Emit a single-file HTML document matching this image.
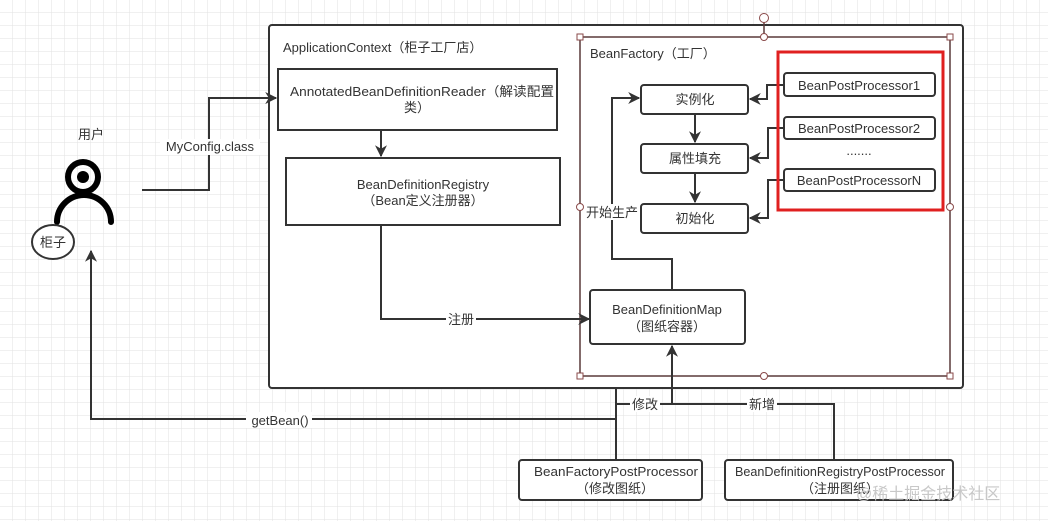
<!DOCTYPE html>
<html><head><meta charset="utf-8"><style>
html,body{margin:0;padding:0;background:#fff}
svg{display:block}
text{font-family:"Liberation Sans","Noto Sans CJK SC",sans-serif;font-size:13px;fill:#333}
</style></head><body>
<svg width="1048" height="521" viewBox="0 0 1048 521" xmlns="http://www.w3.org/2000/svg">
<defs>
<pattern id="g" width="13" height="13" patternUnits="userSpaceOnUse"><path d="M13 0V13H0" fill="none" stroke="#e2e2e2" stroke-width="1"/></pattern>
<marker id="a" viewBox="0 0 10 10" refX="9" refY="5" markerWidth="12" markerHeight="12" orient="auto" markerUnits="userSpaceOnUse"><path d="M0 0L10 5L0 10L3 5z" fill="#333"/></marker>
</defs>
<rect width="1048" height="521" fill="url(#g)"/>
<g fill="#fff" stroke="#333" stroke-width="2">
<rect x="269" y="25" width="694" height="363" rx="3"/>
<rect x="278" y="69" width="279" height="61"/>
<rect x="286" y="158" width="274" height="67"/>
</g>
<text x="283" y="52">ApplicationContext（柜子工厂店）</text>
<text x="290" y="96" textLength="264" lengthAdjust="spacingAndGlyphs">AnnotatedBeanDefinitionReader（解读配置</text>
<text x="417" y="112" text-anchor="middle">类）</text>
<text x="423" y="189" text-anchor="middle">BeanDefinitionRegistry</text>
<text x="423" y="205" text-anchor="middle">（Bean定义注册器）</text>
<path d="M381 130V156" stroke="#333" stroke-width="2" fill="none" marker-end="url(#a)"/>
<rect x="580" y="37" width="370" height="339" fill="none" stroke="#5a3a3a" stroke-width="1.5"/>
<path d="M764 22V37" stroke="#5a3a3a" stroke-width="1.5"/>
<g fill="#fff" stroke="#8a4a4a" stroke-width="1">
<circle cx="764" cy="18" r="4.5"/>
<circle cx="764" cy="37" r="3.5"/><circle cx="764" cy="376" r="3.5"/>
<circle cx="580" cy="207" r="3.5"/><circle cx="950" cy="207" r="3.5"/>
<rect x="577" y="34" width="6" height="6"/><rect x="947" y="34" width="6" height="6"/>
<rect x="577" y="373" width="6" height="6"/><rect x="947" y="373" width="6" height="6"/>
</g>
<text x="590" y="58">BeanFactory（工厂）</text>
<g fill="#fff" stroke="#333" stroke-width="2">
<rect x="641" y="85" width="107" height="29" rx="3"/>
<rect x="641" y="144" width="107" height="29" rx="3"/>
<rect x="641" y="204" width="107" height="29" rx="3"/>
<rect x="590" y="290" width="155" height="54" rx="3"/>
</g>
<text x="695" y="104" text-anchor="middle">实例化</text>
<text x="695" y="163" text-anchor="middle">属性填充</text>
<text x="695" y="223" text-anchor="middle">初始化</text>
<text x="667" y="314" text-anchor="middle">BeanDefinitionMap</text>
<text x="667" y="331" text-anchor="middle">（图纸容器）</text>
<g stroke="#333" stroke-width="2" fill="none">
<path d="M695 114V142" marker-end="url(#a)"/>
<path d="M695 173V202" marker-end="url(#a)"/>
<path d="M672 290V259H612V98H639" marker-end="url(#a)"/>
<path d="M381 225V319H589" marker-end="url(#a)"/>
<path d="M784 85H767V99H750" marker-end="url(#a)"/>
<path d="M784 128H768V158H750" marker-end="url(#a)"/>
<path d="M784 180H768V218H750" marker-end="url(#a)"/>
<path d="M616 388V460"/>
<path d="M834 460V404H665"/>
<path d="M616 404H672V346" marker-end="url(#a)"/>
<path d="M616 419H91V251" marker-end="url(#a)"/>
<path d="M142 190H209V98H276" marker-end="url(#a)"/>
</g>
<rect x="778" y="52" width="165" height="158" fill="none" stroke="#e02020" stroke-width="3"/>
<g fill="#fff" stroke="#333" stroke-width="2">
<rect x="784" y="73" width="151" height="23" rx="3"/>
<rect x="784" y="117" width="151" height="22" rx="3"/>
<rect x="784" y="169" width="151" height="22" rx="3"/>
</g>
<text x="859" y="90" text-anchor="middle">BeanPostProcessor1</text>
<text x="859" y="133" text-anchor="middle">BeanPostProcessor2</text>
<text x="859" y="155" text-anchor="middle">.......</text>
<text x="859" y="185" text-anchor="middle">BeanPostProcessorN</text>
<rect x="586" y="204" width="52" height="16" fill="#fff"/>
<text x="612" y="217" text-anchor="middle">开始生产</text>
<rect x="446" y="311" width="30" height="16" fill="#fff"/>
<text x="461" y="324" text-anchor="middle">注册</text>
<rect x="630" y="396" width="30" height="16" fill="#fff"/>
<text x="645" y="409" text-anchor="middle">修改</text>
<rect x="747" y="396" width="30" height="16" fill="#fff"/>
<text x="762" y="409" text-anchor="middle">新增</text>
<rect x="246" y="412" width="66" height="16" fill="#fff"/>
<text x="280" y="425" text-anchor="middle">getBean()</text>
<rect x="160" y="139" width="100" height="16" fill="#fff"/>
<text x="210" y="151" text-anchor="middle">MyConfig.class</text>
<g fill="#fff" stroke="#333" stroke-width="2">
<rect x="519" y="460" width="183" height="40" rx="3"/>
<rect x="725" y="460" width="228" height="40" rx="3"/>
</g>
<text x="534" y="476" textLength="164" lengthAdjust="spacingAndGlyphs">BeanFactoryPostProcessor</text>
<text x="615" y="493" text-anchor="middle">（修改图纸）</text>
<text x="735" y="476" textLength="210" lengthAdjust="spacingAndGlyphs">BeanDefinitionRegistryPostProcessor</text>
<text x="840" y="493" text-anchor="middle">（注册图纸）</text>
<text x="856" y="499" style="fill:#c8c8c8;font-size:16px">@稀土掘金技术社区</text>
<text x="91" y="139" text-anchor="middle">用户</text>
<circle cx="83" cy="177" r="15" fill="none" stroke="#000" stroke-width="6"/>
<circle cx="83" cy="177" r="6" fill="#000"/>
<path d="M57 222A27 27 0 0 1 111 222" fill="none" stroke="#000" stroke-width="6" stroke-linecap="round"/>
<ellipse cx="53" cy="242" rx="21" ry="17" fill="#fff" stroke="#333" stroke-width="2"/>
<text x="53" y="247" text-anchor="middle">柜子</text>
</svg>
</body></html>
